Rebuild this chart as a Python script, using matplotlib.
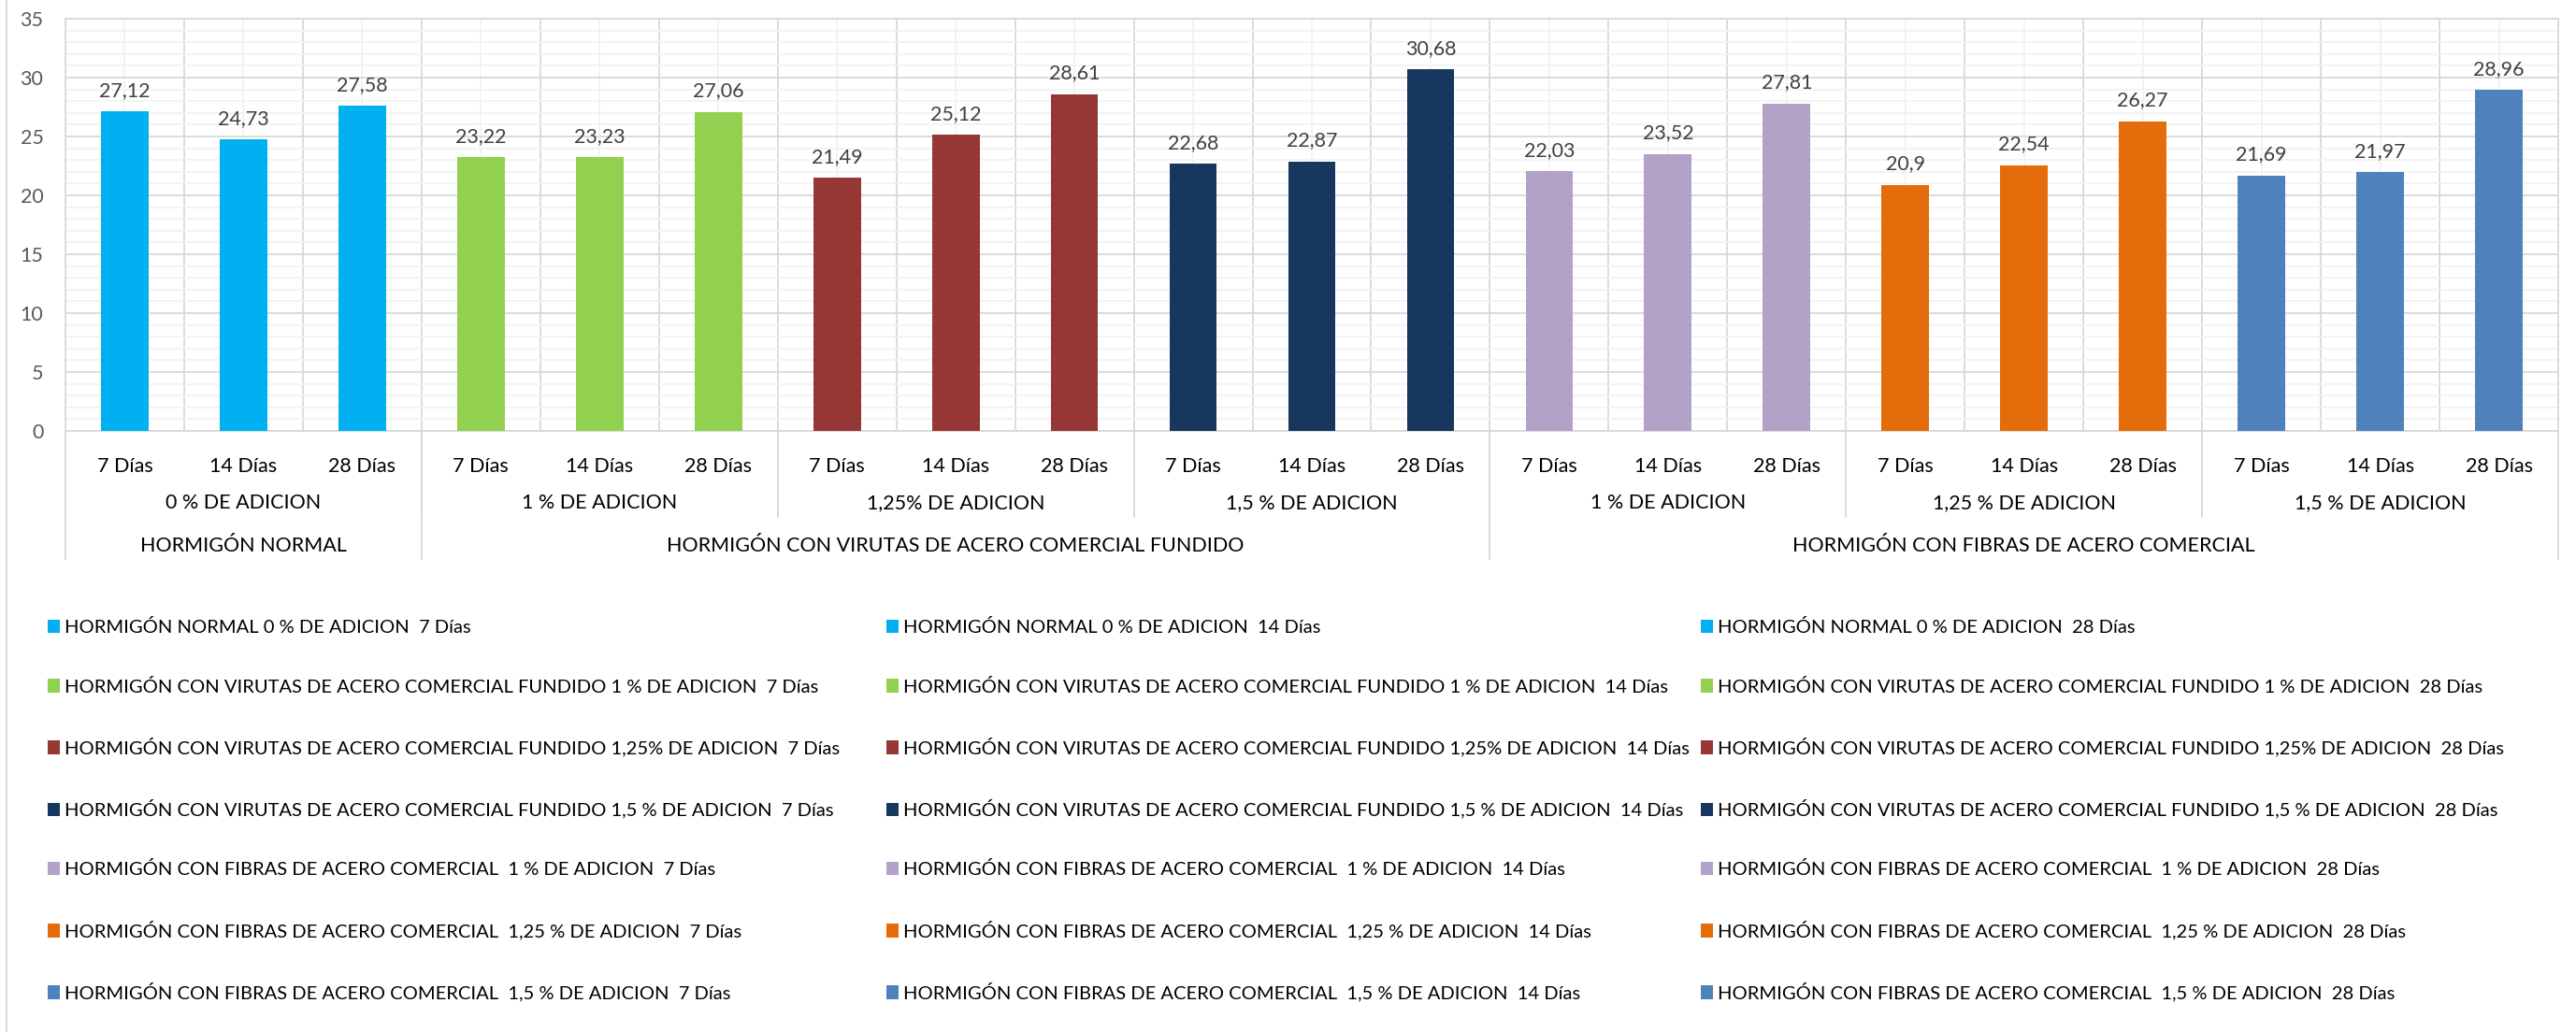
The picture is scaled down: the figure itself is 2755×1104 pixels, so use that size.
import matplotlib
matplotlib.use('Agg')
import matplotlib.pyplot as plt
from matplotlib.lines import Line2D
from matplotlib.patches import Patch

# datos de resistencia por tipo de hormigón / porcentaje de adición / edad
grupos = ['HORMIGÓN NORMAL',
          'HORMIGÓN CON VIRUTAS DE ACERO COMERCIAL FUNDIDO',
          'HORMIGÓN CON FIBRAS DE ACERO COMERCIAL']
subgrupos_por_grupo = [1, 3, 3]
subgrupos = ['0 % DE ADICION', '1 % DE ADICION', '1,25% DE ADICION', '1,5 % DE ADICION',
             '1 % DE ADICION', '1,25 % DE ADICION', '1,5 % DE ADICION']
edades = ['7 Días', '14 Días', '28 Días']

# prefijos usados en la leyenda
nombres_serie = ['HORMIGÓN NORMAL 0 % DE ADICION',
                 'HORMIGÓN CON VIRUTAS DE ACERO COMERCIAL FUNDIDO 1 % DE ADICION',
                 'HORMIGÓN CON VIRUTAS DE ACERO COMERCIAL FUNDIDO 1,25% DE ADICION',
                 'HORMIGÓN CON VIRUTAS DE ACERO COMERCIAL FUNDIDO 1,5 % DE ADICION',
                 'HORMIGÓN CON FIBRAS DE ACERO COMERCIAL  1 % DE ADICION',
                 'HORMIGÓN CON FIBRAS DE ACERO COMERCIAL  1,25 % DE ADICION',
                 'HORMIGÓN CON FIBRAS DE ACERO COMERCIAL  1,5 % DE ADICION']

valores = [[27.12, 24.73, 27.58],
           [23.22, 23.23, 27.06],
           [21.49, 25.12, 28.61],
           [22.68, 22.87, 30.68],
           [22.03, 23.52, 27.81],
           [20.90, 22.54, 26.27],
           [21.69, 21.97, 28.96]]

colores = ['#00B0F0', '#92D050', '#953735', '#17375E', '#B3A2C7', '#E46C0A', '#4F81BD']

FUENTE = ['Lato', 'DejaVu Sans']
plt.rcParams['font.family'] = FUENTE
GRIS = '#D9D9D9'
GRIS_CLARO = '#F2F2F2'
TAM = 15.5
TAM_LEY = 14.5

W, H = 2755, 1104
fig = plt.figure(figsize=(W / 100, H / 100), dpi=100)
fig.patch.set_facecolor('white')
ax = fig.add_axes([70 / W, 1 - 461 / H, 2666 / W, 441 / H])

n_edad = len(edades)
ancho = 0.4
for i, serie in enumerate(valores):
    for j, v in enumerate(serie):
        x = i * n_edad + j
        ax.bar(x, v, width=ancho, color=colores[i], zorder=3)
        txt = ('%g' % v).replace('.', ',')
        ax.annotate(txt, (x, v), xytext=(0, 9), textcoords='offset points',
                    ha='center', va='bottom', fontsize=TAM, color='#404040')

n_cat = len(valores) * n_edad
ax.set_xlim(-0.5, n_cat - 0.5)
ax.set_ylim(0, 35)
ax.set_yticks(range(0, 36, 5))
ax.set_yticks(range(0, 36, 1), minor=True)
ax.set_xticks([k - 0.5 for k in range(1, n_cat)])
ax.set_xticks(range(n_cat), minor=True)
ax.set_xticklabels([])
ax.set_xticklabels([edades[k % n_edad] for k in range(n_cat)], minor=True,
                   fontsize=TAM, color='#000000')
ax.tick_params(axis='both', which='both', length=0)
ax.tick_params(axis='x', which='minor', pad=20)
ax.tick_params(axis='y', which='major', pad=17, labelsize=TAM, labelcolor='#595959')

ax.grid(True, which='major', color=GRIS, lw=1.3, zorder=1)
ax.grid(True, which='minor', color=GRIS_CLARO, lw=1.3, zorder=0)
ax.set_axisbelow(True)
for s in ax.spines.values():
    s.set_color(GRIS)
    s.set_linewidth(1.3)

# ejes de categorías jerárquicos
tr = ax.get_xaxis_transform()
y_fila2 = -77 / 441
y_fila3 = -123 / 441
y_sep2 = -92 / 441
y_sep3 = -137 / 441
pos = 0
for i, sg in enumerate(subgrupos):
    centro = pos + (n_edad - 1) / 2
    ax.text(centro, y_fila2, sg, transform=tr, ha='center', va='center',
            fontsize=TAM, color='#000000')
    if i > 0:
        ax.plot([pos - 0.5, pos - 0.5], [0, y_sep2], transform=tr, color=GRIS,
                lw=1.3, clip_on=False)
    pos += n_edad

pos = 0
for g, ns in zip(grupos, subgrupos_por_grupo):
    ancho_g = ns * n_edad
    centro = pos + (ancho_g - 1) / 2
    ax.text(centro, y_fila3, g, transform=tr, ha='center', va='center',
            fontsize=TAM, color='#000000')
    ax.plot([pos - 0.5, pos - 0.5], [0, y_sep3], transform=tr, color=GRIS,
            lw=1.3, clip_on=False)
    pos += ancho_g
ax.plot([pos - 0.5, pos - 0.5], [0, y_sep3], transform=tr, color=GRIS,
        lw=1.3, clip_on=False)

# leyenda: una columna por edad, filas por serie
x_col = [51, 948, 1819]
for j, e in enumerate(edades):
    h_list = [Patch(facecolor=c) for c in colores]
    l_list = [nom + '  ' + e for nom in nombres_serie]
    fig.legend(h_list, l_list, ncol=1, loc='upper left',
               bbox_to_anchor=(x_col[j] / W, 1 - 662 / H), frameon=False,
               prop={'size': TAM_LEY},
               handlelength=0.65, handleheight=0.72, handletextpad=0.25,
               labelspacing=2.26, borderaxespad=0, borderpad=0)

# borde izquierdo del área del gráfico
fig.add_artist(Line2D([7 / W, 7 / W], [0, 1], color=GRIS, lw=1.5))

plt.savefig('out.png', dpi=100, facecolor='white')
